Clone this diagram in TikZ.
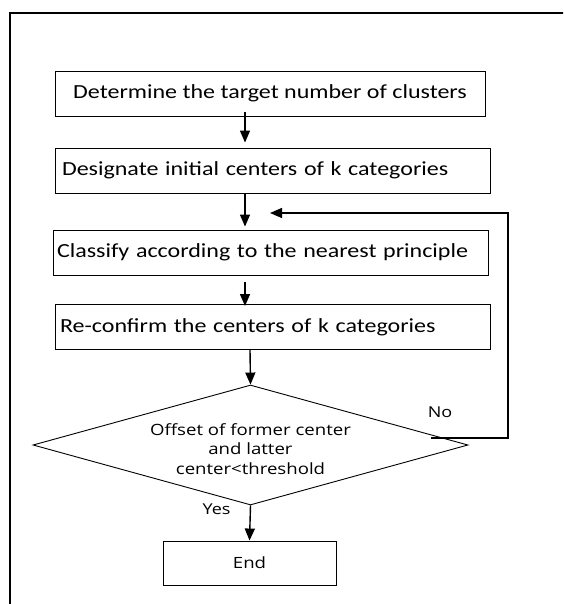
\documentclass[tikz,border=0pt]{standalone}
\usepackage{fontspec}
\setmainfont[FakeStretch=1.2]{Carlito}
\newfontfamily\osans[FakeStretch=1.2]{Open Sans}
\usetikzlibrary{shapes.geometric,arrows.meta}
\begin{document}
\begin{tikzpicture}[x=1pt,y=-1pt,
  stepbox/.style={draw,line width=0.9pt,minimum height=45pt,inner xsep=4pt,font=\fontsize{20}{23}\selectfont},
  flow/.style={line width=1.4pt,-{Triangle[width=10pt,length=12pt]}},
  lbl/.style={font=\osans\fontsize{15}{16}\selectfont,inner sep=0pt}]
\useasboundingbox (0,0) rectangle (563,604);
\begin{scope}
\clip (0,0) rectangle (563,604);
\draw[line width=1.3pt] (10,620) -- (10,13) -- (580,13);
\end{scope}
\node[stepbox,minimum width=430pt] (b1) at (270,93.5) {Determine the target number of clusters};
\node[stepbox,minimum width=435pt,text width=427pt,align=left] (b2) at (272.5,170.5) {\hspace{3pt}Designate initial centers of k categories};
\node[stepbox,minimum width=435pt,text width=427pt,align=left] (b3) at (270.5,252.5) {Classify according to the nearest principle};
\node[stepbox,minimum width=435pt,text width=427pt,align=left] (b4) at (272.5,327) {\hspace{1pt}Re-confirm the centers of k categories};
\node[draw,diamond,line width=0.9pt,minimum width=435pt,minimum height=120pt,inner sep=0pt] (d) at (250.5,445) {};
\node[align=center,inner sep=0pt,font=\osans\fontsize{15.5}{19.5}\selectfont] (dt) at (250.5,449) {Offset of former center\\and latter\\center<threshold};
\node[draw,line width=0.9pt,minimum width=173pt,minimum height=44pt,font=\osans\fontsize{15.5}{17}\selectfont] (e) at (249.5,563) {End};
\node[lbl] (no) at (440,412) {No};
\node[lbl] (yes) at (216.5,509) {Yes};
\coordinate (loopstart) at (431,438);
\coordinate (loopend) at (270,213);
\draw[flow] ([xshift=-25pt,yshift=4pt]b1.south) -- ([xshift=-25pt,yshift=5pt]b1.south |- b2.north);
\draw[flow] ([xshift=-27.5pt]b2.south) -- ([xshift=-27.5pt,yshift=3pt]b2.south |- b3.north);
\draw[flow] ([xshift=-25.5pt,yshift=-7pt]b3.south) -- ([xshift=-25.5pt,yshift=-2pt]b3.south |- b4.north);
\draw[flow] ([xshift=-22.5pt]b4.south) -- (d.north);
\draw[flow] (d.south) -- (e.north);
\draw[flow] (loopstart) -- (508,438) -- (508,213) -- (loopend);
\end{tikzpicture}
\end{document}
